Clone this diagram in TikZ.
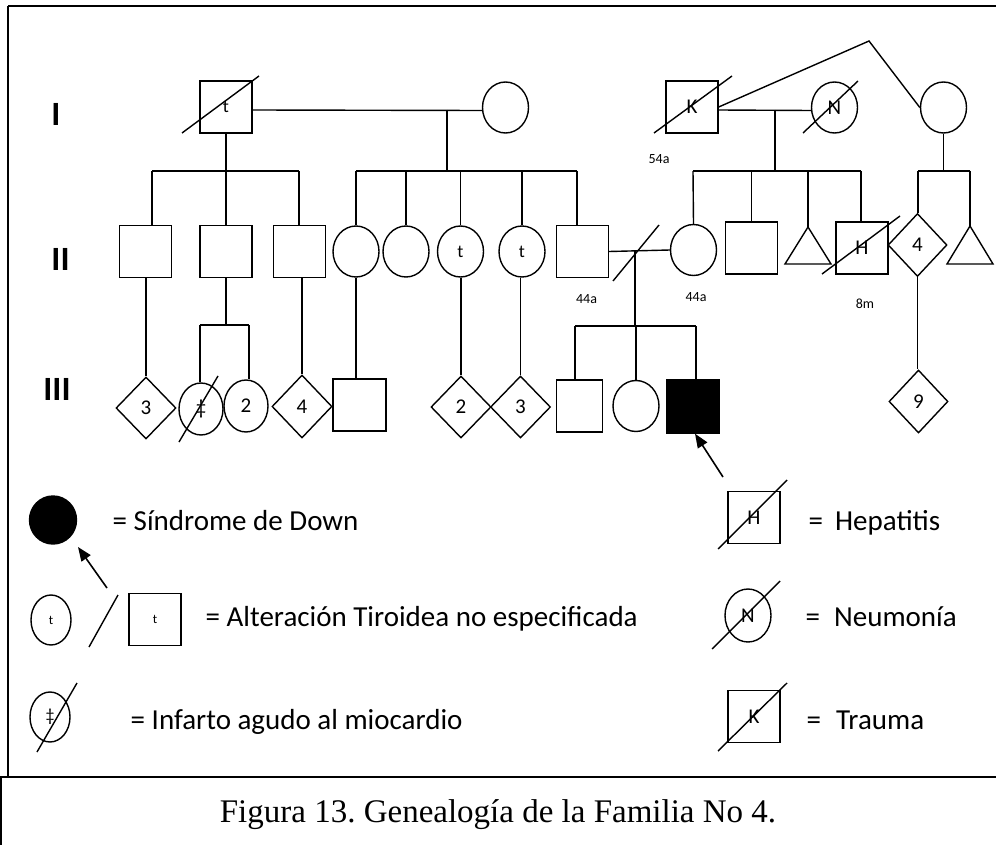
\documentclass[tikz,border=0pt]{standalone}
\usepackage{fontspec}
\setmainfont{Carlito}
\newfontfamily\capfont{Liberation Serif}
\usetikzlibrary{shapes.geometric,arrows.meta,calc}
\frenchspacing

\begin{document}
\begin{tikzpicture}[x=1pt,y=-1pt,line width=1.4pt,
  male/.style={draw,rectangle,minimum width=52pt,minimum height=52pt,inner sep=0pt},
  female/.style={draw,ellipse,minimum width=46pt,minimum height=51pt,inner sep=0pt},
  unknown/.style={draw,diamond,minimum width=60pt,minimum height=62pt,inner sep=0pt},
  lblfont/.style={font=\fontsize{21}{21}\selectfont},
  tfont/.style={font=\fontsize{18}{18}\selectfont},
  keyfont/.style={font=\fontsize{13}{13}\selectfont},
  age/.style={font=\fontsize{14}{14}\selectfont,inner sep=0pt,anchor=base},
  gen/.style={font=\fontsize{34}{34}\selectfont\bfseries,inner sep=0pt,anchor=base},
  legtext/.style={font=\fontsize{29}{30}\selectfont,inner sep=0pt,anchor=base west},
  ptr/.style={-{Triangle[length=14pt,width=11pt]},line width=1.6pt},
]
\useasboundingbox (0,0) rectangle (996,845);

% frame of the figure and of its caption
\draw (8,6) -- (996,6);
\draw (8,6) -- (8,777);
\draw (0,777) -- (996,777);
\draw (1,777) -- (1,845);

% generation numbers
\node[gen] (gI) at (56,126) {I};
\node[gen] (gII) at (60.5,270) {II};
\node[gen] (gIII) at (57,400) {III};

% ---------- generation I ----------
\node[male,tfont] (I1) at (226,107) {t};
\node[female] (I2) at (505.5,107.5) {};
\node[male,lblfont] (I3) at (692,107) {K};
\node[female,lblfont] (I4) at (834.5,107.5) {N};
\node[female] (I5) at (943.5,107.5) {};
\draw (182,133) -- (259,76);
\draw (654,133) -- (732,76);
\draw (803,133) -- (858,81);

\node[age] (a54) at (659,164) {54a};

% unions of generation I
\draw ([yshift=-3pt]I1.east) -- ([yshift=-3pt]I2.west);
\draw ([yshift=-3pt]I3.east) -- ([yshift=-3pt]I4.west);
\coordinate (apex) at (869,41);
\draw (I3.east) -- (apex) -- (I5.west);

% sibship lines
\coordinate (b1l) at (152,171); \coordinate (b1r) at (299,171);
\draw (I1.south) -- (I1.south |- b1l);
\draw (b1l) -- (b1r);

\coordinate (m1) at (447,110);
\coordinate (b2l) at (356,171); \coordinate (b2r) at (577,171);
\draw (m1) -- (m1 |- b2l);
\draw (b2l) -- (b2r);

\coordinate (m2) at (775,110);
\coordinate (b3l) at (693,171); \coordinate (b3r) at (861,171);
\draw (m2) -- (m2 |- b3l);
\draw (b3l) -- (b3r);

\coordinate (b4l) at (918,171); \coordinate (b4r) at (970,171);
\draw (I5.south) -- (I5.south |- b4l);
\draw (b4l) -- (b4r);

% ---------- generation II ----------
\node[male] (II1) at (145.5,251.5) {};
\node[male] (II2) at (226,251.5) {};
\node[male] (II3) at (299.5,251.5) {};
\node[female] (II4) at (356,251.5) {};
\node[female] (II5) at (406,251.5) {};
\node[female,tfont] (II6) at (460.5,251.5) {t};
\node[female,tfont] (II7) at (522,251.5) {t};
\node[male] (II8) at (582.5,251.5) {};
\node[female] (II9) at (693.5,250) {};
\node[male] (II10) at (751.5,248) {};
\coordinate (II11) at (808,227);
\draw (II11) -- ++(23,37) -- ++(-46,0) -- cycle;
\node[male,lblfont] (II12) at (862,248) {H};
\draw (822,274) -- (900,216);
\node[unknown,lblfont,minimum width=59pt,minimum height=63pt] (II13) at (917.5,245) {4};
\coordinate (II14) at (970,226);
\draw (II14) -- ++(23,38) -- ++(-46,0) -- cycle;

\draw (b1l) -- (b1l |- II1.north);
\draw (II2.north |- b1l) -- (II2.north);
\draw (b1r) -- (b1r |- II3.north);
\draw (b2l) -- (II4.north);
\draw (II5.north |- b2l) -- (II5.north);
\draw (II6.north |- b2l) -- (II6.north);
\draw (II7.north |- b2l) -- (II7.north);
\draw (b2r) -- (b2r |- II8.north);
\draw (b3l) -- (II9.north);
\draw (II10.north |- b3l) -- (II10.north);
\draw (II11 |- b3l) -- (II11);
\draw (b3r) -- (b3r |- II12.north);
\draw (b4l) -- (b4l |- II13.north);
\draw (b4r) -- (II14);

\node[age] (a44m) at (586.5,303) {44a};
\node[age] (a44f) at (696,301) {44a};
\node[age] (a8) at (865,308) {8m};

% separated couple of generation II
\draw (II8.east) -- (II9.west);
\draw (613,281) -- (659,225);
\coordinate (m3) at (635,251);
\coordinate (b5l) at (575,326); \coordinate (b5r) at (696,326);
\draw (m3) -- (m3 |- b5l);
\draw (b5l) -- (b5r);

\coordinate (b6l) at (200,325); \coordinate (b6r) at (249,325);
\draw (II2.south) -- (II2.south |- b6l);
\draw (b6l) -- (b6r);

% ---------- generation III ----------
\node[unknown,lblfont] (III1) at (146,408) {3};
\node[female,lblfont,minimum width=44pt,minimum height=52pt] (III2) at (201,409) {‡};
\draw (179,442) -- (218,376);
\node[female,lblfont,minimum width=44pt,minimum height=52pt] (III3) at (246,406) {2};
\node[unknown,lblfont,minimum height=63pt] (III4) at (302,406.5) {4};
\node[male,minimum width=53pt] (III5) at (359.5,405) {};
\node[unknown,lblfont] (III6) at (461,407) {2};
\node[unknown,lblfont] (III7) at (520.5,407) {3};
\node[male,minimum width=46pt] (III8) at (579.5,406) {};
\node[female] (III9) at (636,406) {};
\node[male,fill=black,minimum height=53pt] (III10) at (693,406.5) {};
\node[unknown,lblfont,minimum width=59pt,minimum height=63pt] (III11) at (918.5,401.5) {9};

\draw (III1.north |- II1.south) -- (III1.north);
\draw (b6l) -- (b6l |- III2.north);
\draw (b6r) -- (b6r |- III3.north);
\draw (III4.north |- II3.south) -- (III4.north);
\draw (II4.south) -- (II4.south |- III5.north);
\draw (III6.north |- II6.south) -- (III6.north);
\draw (III7.north |- II7.south) -- (III7.north);
\draw (b5l) -- (b5l |- III8.north);
\draw (III9.north |- b5l) -- (III9.north);
\draw (b5r) -- (b5r |- III10.north);
\draw (II13.south) -- (II13.south |- III11.north);

% proband
\coordinate (pa) at (723,477);
\draw[ptr] (pa) -- ([xshift=2pt]III10.south);

% ---------- key ----------
\node[draw,ellipse,fill=black,minimum width=47pt,minimum height=48pt] (kD) at (53,520) {};
\coordinate (kDtip) at (78,547);
\coordinate (kDtail) at (107,588);
\draw[ptr] (kDtail) -- (kDtip);
\node[legtext] (tD) at (112,530) {= Síndrome de Down};

\node[female,keyfont,minimum width=40pt,minimum height=50pt] (kTf) at (51,620) {t};
\draw (89,647) -- (118,595);
\node[male,keyfont] (kTm) at (155,619.5) {t};
\node[legtext] (tT) at (205,626) {= Alteración Tiroidea no especificada};

\node[female,tfont,minimum width=40pt,minimum height=50pt] (kI) at (50,717) {‡};
\draw (37,752) -- (77,683);
\node[legtext] (tI) at (130,729) {= Infarto agudo al miocardio};

\node[male,lblfont] (kH) at (754,517.5) {H};
\draw (718,549) -- (787,480);
\node[legtext] (tH) at (808,530) {=\hspace{12pt}Hepatitis};

\node[female,lblfont,minimum width=46pt,minimum height=53pt] (kN) at (748,615.5) {N};
\draw (712,649) -- (780,581);
\node[legtext] (tN) at (805,626) {=\hspace{14pt}Neumonía};

\node[male,lblfont] (kK) at (754,716.5) {K};
\draw (718,751) -- (787,683);
\node[legtext] (tK) at (806,729) {=\hspace{15pt}Trauma};

% caption
\node[font=\capfont\fontsize{33}{34}\selectfont,inner sep=0pt,anchor=base] (cap) at (498,822) {Figura 13. Genealogía de la Familia No 4.};
\end{tikzpicture}
\end{document}
